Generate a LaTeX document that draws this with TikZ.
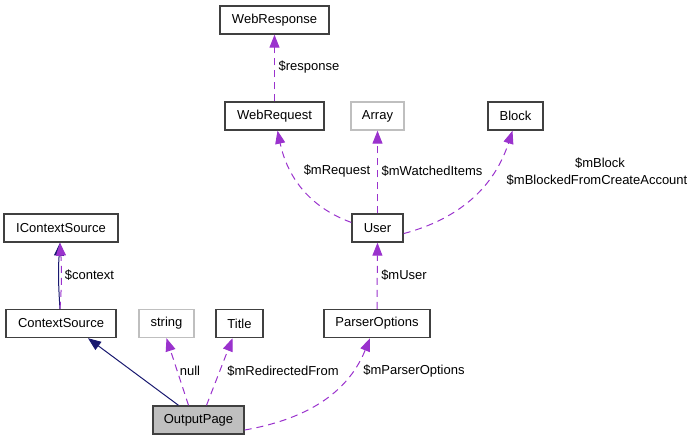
\documentclass[tikz,border=0pt]{standalone}
\usepackage{fontspec}
\setmainfont{Liberation Sans}
\usetikzlibrary{arrows.meta}
\definecolor{edgepurple}{HTML}{9A32CD}
\definecolor{edgenavy}{HTML}{191970}
\definecolor{boxline}{HTML}{404040}
\definecolor{greyline}{HTML}{BFBFBF}
\definecolor{hilite}{HTML}{BFBFBF}
\begin{document}
\begin{tikzpicture}[x=1pt,y=-1pt,
  cls/.style={draw=boxline, line width=1.4pt, minimum height=28pt, inner sep=0pt, font=\fontsize{13}{15}\selectfont, fill=white},
  ext/.style={cls, draw=greyline},
  lbl/.style={inner sep=0pt, font=\fontsize{13}{15}\selectfont},
  use/.style={draw=edgepurple, dash pattern=on 7pt off 5pt, line width=1pt, -{Triangle[length=13pt,width=10pt,fill=edgepurple]}},
  inh/.style={draw=edgenavy, line width=1pt, -{Triangle[length=13pt,width=10pt,fill=edgenavy]}}
]
\useasboundingbox (0,0) rectangle (695,440);
% classes
\node[cls, minimum width=114pt] (ics) at (61,228) {IContextSource};
\node[cls, minimum width=110pt] (cs) at (61,323.5) {ContextSource};
\node[ext, minimum width=55pt] (str) at (166.5,323.5) {string};
\node[cls, minimum width=47pt] (title) at (239.5,323.5) {Title};
\node[cls, minimum width=91pt, fill=hilite] (op) at (198.5,420) {OutputPage};
\node[cls, minimum width=106pt] (po) at (377,323.5) {ParserOptions};
\node[cls, minimum width=51pt] (user) at (377.5,228) {User};
\node[cls, minimum width=109pt] (wresp) at (274.5,20) {WebResponse};
\node[cls, minimum width=99pt] (wreq) at (274.5,116) {WebRequest};
\node[ext, minimum width=53pt] (arr) at (377.5,116) {Array};
\node[cls, minimum width=55pt] (blk) at (515.5,116) {Block};
% edges
\coordinate (csTop1) at ([xshift=-1pt]cs.north);
\coordinate (icsBot1) at ([xshift=-1pt]ics.south);
\draw[inh] (csTop1) to[bend left=4] (icsBot1);
\draw[use] (csTop1) to[bend right=4] (icsBot1);
\draw[inh] ([xshift=-20pt]op.north) -- ([xshift=27pt]cs.south);
\draw[use] ([xshift=-10pt]op.north) -- (str.south);
\draw[use] ([xshift=8pt]op.north) -- ([xshift=-7pt]title.south);
\draw[use] ([yshift=-10pt]op.east) to[out=10, in=-112] ([xshift=-7pt]po.south);
\draw[use] (po.north) -- (user.south);
\draw[use] (user.168) to[out=160, in=-78] ([xshift=3pt]wreq.south);
\draw[use] (user.north) -- (arr.south);
\draw[use] (user.-12) to[out=15, in=-108] ([xshift=-3pt]blk.south);
\draw[use] (wreq.north) -- (wresp.south);
% labels
\node[lbl] (lctx) at (89.5,275) {\$context};
\node[lbl] (lnull) at (190,371) {null};
\node[lbl] (lred) at (283,371) {\$mRedirectedFrom};
\node[lbl] (lpo) at (414,371) {\$mParserOptions};
\node[lbl] (luser) at (404,275) {\$mUser};
\node[lbl] (lresp) at (309,67) {\$response};
\node[lbl] (lreq) at (337,171) {\$mRequest};
\node[lbl] (lwat) at (432,171) {\$mWatchedItems};
\node[lbl] (lblk) at (600,163) {\$mBlock};
\node[lbl] (lblk2) at (597,180) {\$mBlockedFromCreateAccount};
\end{tikzpicture}
\end{document}
